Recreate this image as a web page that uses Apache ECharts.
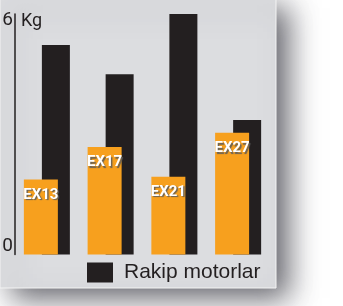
<!DOCTYPE html>
<html><head><meta charset="utf-8">
<script src="https://cdn.jsdelivr.net/npm/echarts@6/dist/echarts.min.js"></script>
<style>html,body{margin:0;padding:0;background:#fff;}#c{width:343px;height:306px;}</style>
</head><body><div id="c"></div>
<script>
const categories = ['EX13', 'EX17', 'EX21', 'EX27'];
const exValues = [5.3, 7.6, 5.5, 8.6];
const rakipValues = [14.8, 12.75, 17.0, 9.5];
const rakipName = 'Rakip motorlar';
const yTickLabels = [0, 16];

const condensed = 'Roboto, Liberation Sans, sans-serif';
const chart = echarts.init(document.getElementById('c'), null, {renderer: 'canvas'});
chart.setOption({
  animation: false,
  backgroundColor: '#ffffff',
  graphic: [
    {type: 'rect', z: -10, shape: {x: 0, y: -2, width: 276, height: 290},
     style: {fill: '#dcdde0', stroke: '#f4f4f4', lineWidth: 1,
             shadowBlur: 28, shadowOffsetX: 12, shadowOffsetY: 10, shadowColor: 'rgba(50,50,60,0.75)'}},
    {type: 'text', z: 10, left: 21, top: 12,
     style: {text: 'Kg', fontSize: 18, fontFamily: condensed, fill: '#231f20'}}
  ],
  grid: {left: 15, width: 255, top: 14, bottom: 51.5, containLabel: false, outerBoundsMode: 'none'},
  legend: {
    data: [rakipName], left: 87, top: 262, padding: 0, itemWidth: 26, itemHeight: 20, icon: 'rect',
    textStyle: {fontSize: 21, fontFamily: 'Liberation Sans, Arial, sans-serif', color: '#231f20', padding: [0, 0, 0, 6]}
  },
  xAxis: {type: 'category', data: categories, axisLine: {show: false}, axisTick: {show: false}, axisLabel: {show: false}},
  yAxis: {
    type: 'value', min: 0, max: 17, interval: 16,
    axisLine: {show: true, lineStyle: {color: '#231f20', width: 1.5}},
    axisTick: {show: false}, splitLine: {show: false},
    axisLabel: {
      margin: 2, fontSize: 19, lineHeight: 16, verticalAlign: 'bottom', color: '#231f20',
      fontFamily: condensed,
      formatter: v => yTickLabels.indexOf(v) >= 0 ? String(v) : ''
    }
  },
  series: [
    {name: 'EX', type: 'bar', data: exValues, barWidth: 34, barGap: '-47%', z: 3,
     itemStyle: {color: '#f7a01e'},
     label: {show: true, position: 'insideTop', distance: 8, formatter: '{b}', color: '#fff',
             fontSize: 15, fontWeight: 'bold', fontFamily: condensed,
             textShadowColor: 'rgba(90,90,90,0.9)', textShadowOffsetX: 1.5, textShadowOffsetY: 1.5, textShadowBlur: 1}},
    {name: rakipName, type: 'bar', data: rakipValues, barWidth: 28, barGap: '-47%', z: 2,
     itemStyle: {color: '#231f20'}}
  ]
});
</script></body></html>
